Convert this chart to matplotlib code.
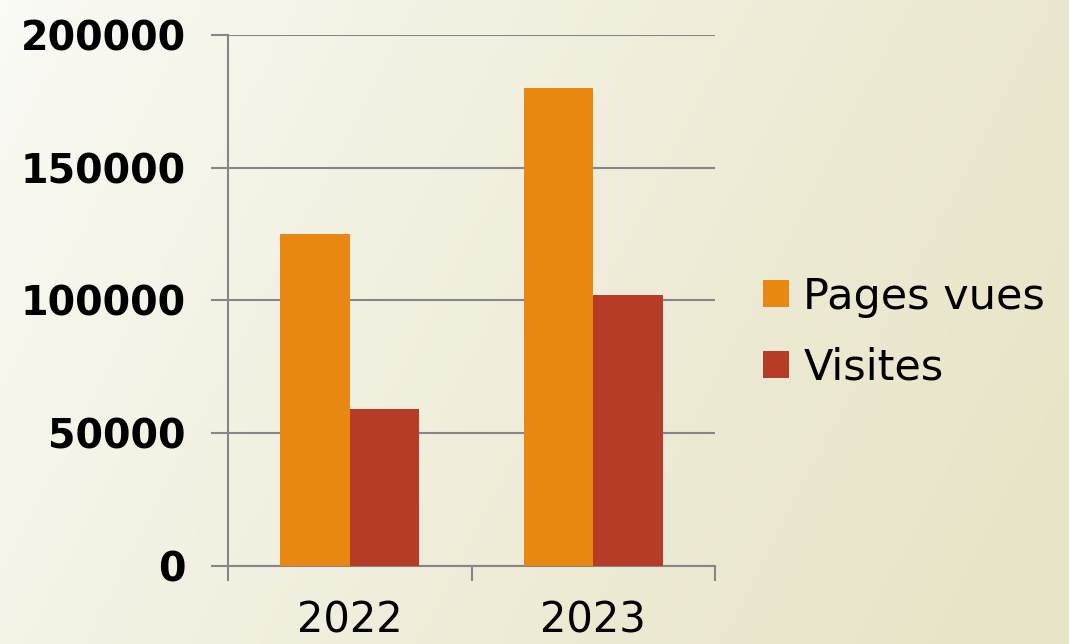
import matplotlib
matplotlib.use("Agg")
import matplotlib.pyplot as plt
import numpy as np

# data
years = ["2022", "2023"]
pages_vues = [125000, 180000]
visites = [59000, 102000]
series_names = ["Pages vues", "Visites"]

orange = "#E88712"
red = "#B73C28"
grey = "#868686"

fig = plt.figure(figsize=(10.69, 6.44), dpi=100)

# soft beige gradient behind everything
bg = fig.add_axes([0, 0, 1, 1], zorder=-10)
gx, gy = np.meshgrid(np.linspace(0, 1, 300), np.linspace(0, 1, 200))
tt = np.clip(0.8 * gx + 0.25 * gy, 0, 1) ** 0.8
c0 = np.array([251, 251, 247]) / 255
c1 = np.array([232, 228, 199]) / 255
img = c0[None, None, :] * (1 - tt[..., None]) + c1[None, None, :] * tt[..., None]
bg.imshow(img, aspect="auto", extent=[0, 1, 0, 1], origin="upper")
bg.axis("off")

ax = fig.add_axes([0.2133, 0.1211, 0.4556, 0.8246])
ax.patch.set_alpha(0)

x = np.arange(len(years)) + 0.5
w = 1 / 3.5
ax.bar(x - w / 2, pages_vues, width=w, color=orange, label=series_names[0], zorder=3)
ax.bar(x + w / 2, visites, width=w, color=red, label=series_names[1], zorder=3)

ax.set_xlim(0, 2)
ax.set_ylim(0, 200000)
ax.set_yticks([0, 50000, 100000, 150000, 200000])
ax.set_yticklabels(["0", "50000", "100000", "150000", "200000"])
ax.set_xticks(x)
ax.set_xticklabels(years)
ax.set_xticks([0, 1, 2], minor=True)

ax.grid(axis="y", color=grey, linewidth=1.5, zorder=0)
ax.set_axisbelow(True)

for s in ["top", "right"]:
    ax.spines[s].set_visible(False)
for s in ["left", "bottom"]:
    ax.spines[s].set_color(grey)
    ax.spines[s].set_linewidth(1.5)

ax.tick_params(axis="y", length=12.5, width=1.5, color=grey, pad=18,
               labelsize=28.5)
for lab in ax.get_yticklabels():
    lab.set_fontweight("bold")
ax.tick_params(axis="x", which="major", length=0, pad=24, labelsize=30)
ax.tick_params(axis="x", which="minor", length=11, width=1.5, color=grey)

ax.legend(loc="center left", bbox_to_anchor=(1.064, 0.44), frameon=False,
          fontsize=31, handlelength=0.6, handleheight=0.6,
          handletextpad=0.33, labelspacing=0.67, borderaxespad=0)

plt.savefig("out.png", dpi=100)
